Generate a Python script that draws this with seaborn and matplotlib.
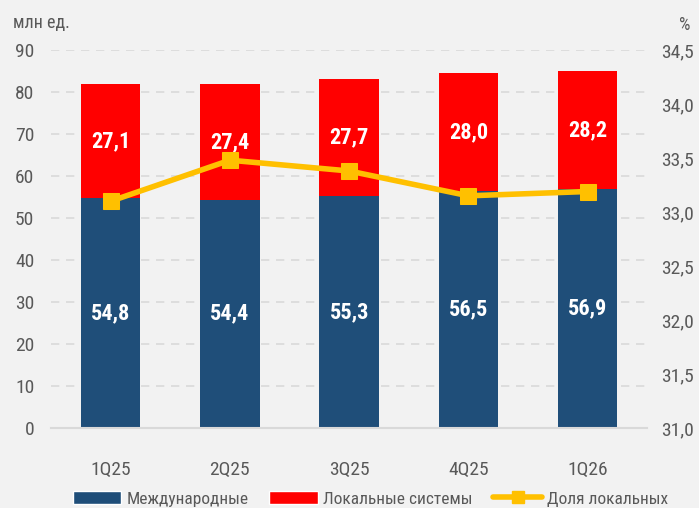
import numpy as np
import pandas as pd
import matplotlib.pyplot as plt
import seaborn as sns
from matplotlib.patches import Patch
from matplotlib.lines import Line2D

# Data
quarters = ["1Q25", "2Q25", "3Q25", "4Q25", "1Q26"]
intl = [54.8, 54.4, 55.3, 56.5, 56.9]
local = [27.1, 27.4, 27.7, 28.0, 28.2]
share = [33.1, 33.48, 33.38, 33.15, 33.19]

navy = "#1f4e79"
red = "#ff0000"
yellow = "#ffc000"
bg = "#f2f2f2"
txt = "#595959"

sns.set_style("white")
plt.rcParams["font.family"] = ["Roboto Condensed", "Liberation Sans Narrow", "DejaVu Sans"]

df = pd.DataFrame({"q": quarters, "intl": intl, "local": local, "share": share})
df["total"] = df["intl"] + df["local"]

fig = plt.figure(figsize=(6.99, 5.08), dpi=100, facecolor=bg)
ax = fig.add_axes([0.073, 0.1575, 0.853, 0.744], facecolor=bg)

# stacked bars: totals in red, international over them in navy
sns.barplot(data=df, x="q", y="total", color=red, width=0.5, saturation=1,
            linewidth=0, edgecolor=red, ax=ax)
sns.barplot(data=df, x="q", y="intl", color=navy, width=0.5, saturation=1,
            linewidth=0, edgecolor=navy, ax=ax)

for i, row in df.iterrows():
    ax.text(i, row["intl"] / 2, f"{row['intl']:.1f}".replace(".", ","), color="white",
            ha="center", va="center", fontsize=16, fontweight="bold")
    ax.text(i, row["intl"] + row["local"] / 2, f"{row['local']:.1f}".replace(".", ","), color="white",
            ha="center", va="center", fontsize=16, fontweight="bold")

ax.set_ylim(0, 90)
ax.set_yticks(range(0, 91, 10))
ax.set_xlim(-0.5, 4.5)
ax.set_xlabel("")
ax.set_ylabel("")
ax.yaxis.grid(True, linestyle=(0, (5, 4)), color="#d9d9d9", linewidth=1.2)
ax.set_axisbelow(True)
for s in ["top", "left", "right"]:
    ax.spines[s].set_visible(False)
ax.spines["bottom"].set_color("#d9d9d9")
ax.spines["bottom"].set_linewidth(1.5)
ax.tick_params(axis="both", length=0, labelsize=14, labelcolor=txt)
ax.tick_params(axis="x", pad=24)
ax.tick_params(axis="y", pad=12)

ax2 = ax.twinx()
sns.lineplot(x=np.arange(len(quarters)), y=df["share"], color=yellow, linewidth=4,
             marker="s", markersize=11, markeredgecolor=yellow, ax=ax2)
ax2.set_ylim(31, 34.5)
ax2.set_yticks(np.arange(31, 34.51, 0.5))
ax2.set_yticklabels([f"{v:.1f}".replace(".", ",") for v in np.arange(31, 34.51, 0.5)])
ax2.set_ylabel("")
for s in ["top", "left", "right", "bottom"]:
    ax2.spines[s].set_visible(False)
ax2.tick_params(axis="y", length=0, labelsize=14, labelcolor=txt, pad=10)

fig.text(0.018, 0.955, "млн ед.", fontsize=13, color=txt, ha="left", va="center")
fig.text(0.98, 0.95, "%", fontsize=13, color=txt, ha="center", va="center")

handles = [
    Patch(facecolor=navy, label="Международные"),
    Patch(facecolor=red, label="Локальные системы"),
    Line2D([0], [0], color=yellow, linewidth=4, marker="s", markersize=8, label="Доля локальных"),
]
fig.legend(handles=handles, loc="center", bbox_to_anchor=(0.53, 0.018), ncol=3, frameon=False,
           fontsize=12.5, labelcolor=txt, handlelength=2.8, handleheight=0.8, columnspacing=1.2,
           handletextpad=0.3)

fig.savefig("out.png", dpi=100, facecolor=bg)
